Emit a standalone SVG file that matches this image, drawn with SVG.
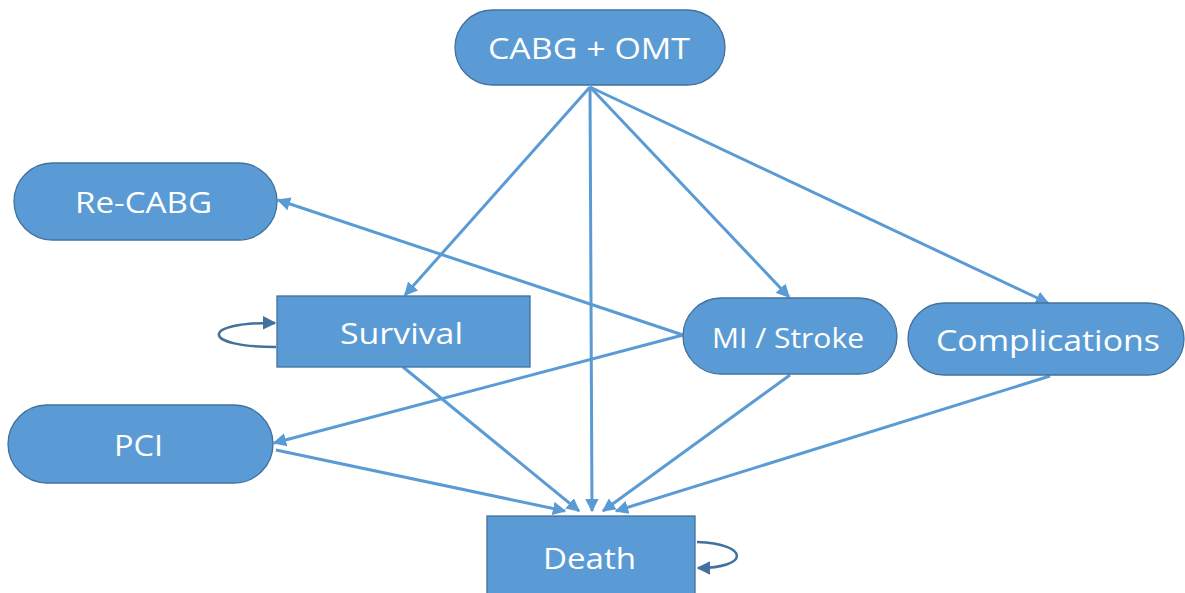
<svg xmlns="http://www.w3.org/2000/svg" width="1185" height="593" viewBox="0 0 1185 593">
<defs>
<style>
.n{fill:#5b9bd5;stroke:#41719c;stroke-width:1.3}
.t{fill:#fff;font-family:"Open Sans","Noto Sans",sans-serif;font-size:30px;text-anchor:middle;dominant-baseline:central}
.e{fill:none;stroke:#5b9bd5;stroke-width:3}
.l{fill:none;stroke:#41719c;stroke-width:2.5}
</style>
<marker id="a" viewBox="0 0 10 10" refX="9" refY="5" markerWidth="4.5" markerHeight="4.5" orient="auto" markerUnits="strokeWidth">
<path d="M0,0 L10,5 L0,10 z" fill="#5b9bd5"/>
</marker>
<marker id="b" viewBox="0 0 10 10" refX="9" refY="5" markerWidth="5.5" markerHeight="5.5" orient="auto" markerUnits="strokeWidth">
<path d="M0,0 L10,5 L0,10 z" fill="#41719c"/>
</marker>
</defs>
<rect width="1185" height="593" fill="#fff"/>
<g id="connectors">
<line class="e" x1="590" y1="87" x2="405" y2="295" marker-end="url(#a)"/>
<line class="e" x1="590" y1="87" x2="592" y2="511" marker-end="url(#a)"/>
<line class="e" x1="590" y1="87" x2="789" y2="297" marker-end="url(#a)"/>
<line class="e" x1="590" y1="87" x2="1048" y2="303" marker-end="url(#a)"/>
<line class="e" x1="683" y1="335" x2="278" y2="200" marker-end="url(#a)"/>
<line class="e" x1="683" y1="335" x2="274" y2="443" marker-end="url(#a)"/>
<line class="e" x1="276" y1="450" x2="565" y2="511" marker-end="url(#a)"/>
<line class="e" x1="403" y1="367" x2="579" y2="511" marker-end="url(#a)"/>
<line class="e" x1="790" y1="375" x2="603" y2="511" marker-end="url(#a)"/>
<line class="e" x1="1050" y1="376" x2="616" y2="511" marker-end="url(#a)"/>
<path class="l" d="M276,347 C200,347 200,322 275,323" marker-end="url(#b)"/>
<path class="l" d="M697,542 C750,544 750,568 698,568" marker-end="url(#b)"/>
</g>
<g id="cabg"><rect class="n" x="455" y="10" width="270" height="75" rx="37.5"/><text class="t" x="589" y="47" textLength="202" lengthAdjust="spacingAndGlyphs">CABG + OMT</text></g>
<g id="recabg"><rect class="n" x="14" y="163" width="263" height="77" rx="38.5"/><text class="t" x="143.5" y="201" textLength="137" lengthAdjust="spacingAndGlyphs">Re-CABG</text></g>
<g id="survival"><rect class="n" x="277" y="296" width="253" height="71"/><text class="t" x="401.5" y="332" textLength="123" lengthAdjust="spacingAndGlyphs">Survival</text></g>
<g id="mistroke"><rect class="n" x="683" y="298" width="214" height="76" rx="38"/><text class="t" x="788" y="337" style="font-size:27px" textLength="152" lengthAdjust="spacingAndGlyphs">MI / Stroke</text></g>
<g id="complications"><rect class="n" x="908" y="303" width="276" height="72" rx="36"/><text class="t" x="1048" y="339" textLength="224" lengthAdjust="spacingAndGlyphs">Complications</text></g>
<g id="pci"><rect class="n" x="8" y="405" width="265" height="78" rx="39"/><text class="t" x="138.5" y="444" textLength="49" lengthAdjust="spacingAndGlyphs">PCI</text></g>
<g id="death"><rect class="n" x="487" y="516" width="208" height="80"/><text class="t" x="589.5" y="557" textLength="93" lengthAdjust="spacingAndGlyphs">Death</text></g>
</svg>
